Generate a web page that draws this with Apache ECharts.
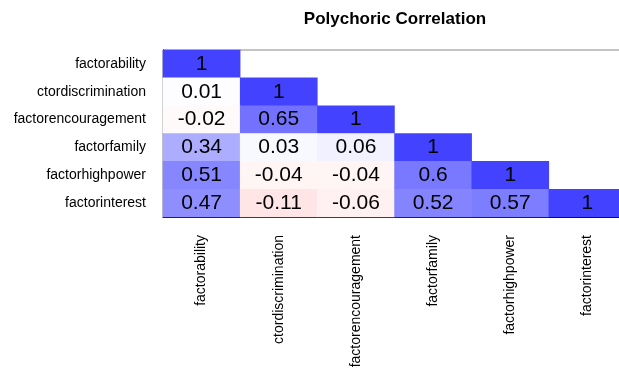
<!DOCTYPE html>
<html>
<head>
<meta charset="utf-8">
<script src="https://cdn.jsdelivr.net/npm/echarts@6/dist/echarts.min.js"></script>
<style>
html,body{margin:0;padding:0;background:#fff;}
#c{width:619px;height:372px;}
</style>
</head>
<body>
<div id="c"></div>
<script>
var categories = ['factorability','ctordiscrimination','factorencouragement','factorfamily','factorhighpower','factorinterest'];
var row0 = [1];
var row1 = [0.01, 1];
var row2 = [-0.02, 0.65, 1];
var row3 = [0.34, 0.03, 0.06, 1];
var row4 = [0.51, -0.04, -0.04, 0.6, 1];
var row5 = [0.47, -0.11, -0.06, 0.52, 0.57, 1];
var rows = [row0, row1, row2, row3, row4, row5];

var data = [];
rows.forEach(function (r, i) {
  r.forEach(function (v, j) { data.push([j, i, v]); });
});

var FONT = 'Liberation Sans, Arial, Helvetica, sans-serif';
var chart = echarts.init(document.getElementById('c'), null, {renderer: 'canvas'});
chart.setOption({
  animation: false,
  backgroundColor: '#fff',
  title: {
    text: 'Polychoric Correlation',
    left: 390, top: 6, textAlign: 'center',
    textStyle: {fontFamily: FONT, fontSize: 17, fontWeight: 'bold', color: '#000'}
  },
  grid: {left: 163, top: 50, width: 463, height: 167, show: true, borderColor: '#888', borderWidth: 1,
    backgroundColor: 'transparent', outerBoundsMode: 'none', containLabel: false},
  xAxis: {
    type: 'category', data: categories, position: 'bottom',
    axisLine: {lineStyle: {color: '#000', width: 1}},
    axisTick: {alignWithLabel: true, length: 8, lineStyle: {color: '#555'}},
    axisLabel: {rotate: 90, margin: 18, fontFamily: FONT, fontSize: 14, color: '#000', interval: 0},
    splitLine: {show: false}
  },
  yAxis: {
    type: 'category', data: categories, inverse: true,
    axisLine: {lineStyle: {color: '#000', width: 1}},
    axisTick: {alignWithLabel: true, length: 8, lineStyle: {color: '#555'}},
    axisLabel: {margin: 17, fontFamily: FONT, fontSize: 14, color: '#000', interval: 0},
    splitLine: {show: false}
  },
  visualMap: {
    show: false, type: 'continuous', min: -1, max: 1, dimension: 2,
    inRange: {color: ['#ff4242', '#ff8787', '#ffffff', '#8787ff', '#4242ff']}
  },
  series: [{
    type: 'heatmap',
    data: data,
    label: {show: true, fontFamily: FONT, fontSize: 21, color: '#000',
      formatter: function (p) { return String(p.value[2]); }},
    itemStyle: {borderWidth: 0}
  }]
});
</script>
</body>
</html>
